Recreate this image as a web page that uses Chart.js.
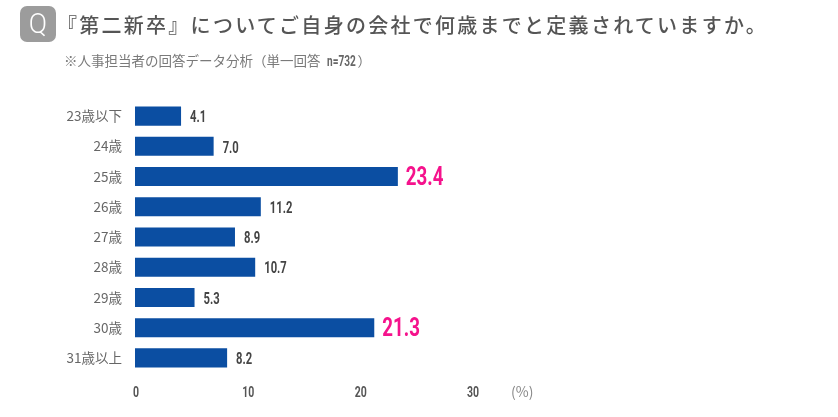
<!DOCTYPE html>
<html lang="ja">
<head>
<meta charset="utf-8">
<title>第二新卒</title>
<script src="https://cdn.jsdelivr.net/npm/chart.js@4"></script>
<style>
  html, body { margin: 0; padding: 0; background: #fff; }
  #wrap { position: relative; width: 838px; height: 417px; overflow: hidden; }
  #mycanvas { position: absolute; left: 0; top: 0; }
  .badge { position: absolute; left: 20px; top: 6px; width: 36px; height: 36px; border-radius: 7px; background: #9c9c9c;
    color: #fff; font: 300 27px/36px Roboto, sans-serif; text-align: center; }
  .heading { position: absolute; left: 57px; top: 10px; white-space: nowrap; color: #555;
    font: 500 20px/30px "Noto Sans CJK JP", sans-serif; letter-spacing: 2.27px; }
  .note { position: absolute; left: 64px; top: 50px; white-space: nowrap; color: #7a7a7a;
    font: 400 13.5px/20px "Noto Sans CJK JP", sans-serif; }
  .note b { display: inline-block; font: 700 14px/20px Roboto, sans-serif; color: #666; transform: scaleX(0.72); transform-origin: left; margin-right: -9px; }
</style>
</head>
<body>
<div id="wrap">
  <canvas id="mycanvas" width="838" height="417"></canvas>
  <div class="badge">Q</div>
  <div class="heading">『第二新卒』についてご自身の会社で何歳までと定義されていますか。</div>
  <div class="note">※人事担当者の回答データ分析（単一回答&nbsp; <b>n=732</b>）</div>
</div>
<script>
var ages = ["23歳以下", "24歳", "25歳", "26歳", "27歳", "28歳", "29歳", "30歳", "31歳以上"];
var percents = [4.1, 7.0, 23.4, 11.2, 8.9, 10.7, 5.3, 21.3, 8.2];
var xTicks = [0, 10, 20, 30];
var unitLabel = "(%)";
var highlightFrom = 20;

// the numbers in this chart use a condensed face, so squeeze Roboto sideways
function narrowText(ctx, text, x, y, squeeze, align) {
    ctx.save();
    ctx.translate(x, y);
    ctx.scale(squeeze, 1);
    ctx.textAlign = align;
    ctx.fillText(text, 0, 0);
    ctx.restore();
}

// value labels beside each bar, the big ones in pink, then the x axis numbers and unit
var barLabels = {
    id: "barLabels",
    afterDatasetsDraw: function (chart) {
        var ctx = chart.ctx;
        var bars = chart.getDatasetMeta(0).data;
        ctx.save();
        ctx.textBaseline = "middle";
        for (var i in percents) {
            var big = percents[i] >= highlightFrom;
            ctx.fillStyle = big ? "#f5128c" : "#444444";
            ctx.font = big ? "700 26px Roboto" : "700 17px Roboto";
            narrowText(ctx, percents[i].toFixed(1), bars[i].x + (big ? 8 : 9), bars[i].y + 2, big ? 0.72 : 0.66, "left");
        }
        var x = chart.scales.x;
        ctx.fillStyle = "#555555";
        ctx.font = "700 15px Roboto";
        for (var t in xTicks) {
            narrowText(ctx, String(xTicks[t]), x.getPixelForValue(xTicks[t]) + 1, 393, 0.7, "center");
        }
        ctx.fillStyle = "#888888";
        ctx.font = "400 14px 'Noto Sans CJK JP'";
        ctx.textAlign = "left";
        ctx.fillText(unitLabel, x.getPixelForValue(30) + 39, 392);
        ctx.restore();
    }
};

var chartdata = {
    labels: ages,
    datasets: [
        {
            label: "percent",
            backgroundColor: "#0b4ea2",
            borderWidth: 0,
            barPercentage: 0.63,
            categoryPercentage: 1,
            data: percents
        }
    ]
};

var barGraph = new Chart(document.getElementById("mycanvas"), {
    type: "bar",
    data: chartdata,
    plugins: [barLabels],
    options: {
        indexAxis: "y",
        responsive: false,
        animation: false,
        layout: { padding: { top: 101, right: 366, left: 0, bottom: 0 } },
        plugins: { legend: { display: false }, tooltip: { enabled: false } },
        scales: {
            y: {
                grid: { display: false },
                border: { display: false },
                ticks: { color: "#666666", padding: 5, font: { family: "'Noto Sans CJK JP'", size: 13.5 } },
                afterFit: function (scale) { scale.width = 135; }
            },
            x: {
                min: 0,
                max: 30,
                grid: { display: false },
                border: { display: false },
                afterBuildTicks: function (scale) {
                    scale.ticks = xTicks.map(function (v) { return { value: v }; });
                },
                ticks: { display: false },
                afterFit: function (scale) { scale.height = 44; }
            }
        }
    }
});
</script>
</body>
</html>
